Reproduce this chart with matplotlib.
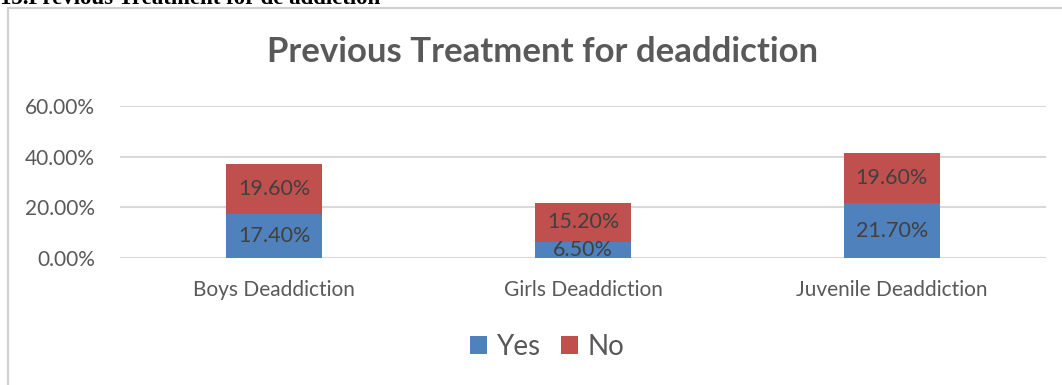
import matplotlib.pyplot as plt
from matplotlib.patches import Rectangle
import numpy as np

# Previous treatment for deaddiction, by centre
centres = ['Boys Deaddiction', 'Girls Deaddiction', 'Juvenile Deaddiction']
yes = [17.40, 6.50, 21.70]
no = [19.60, 15.20, 19.60]

plt.rcParams['font.family'] = ['Lato', 'DejaVu Sans']

fig = plt.figure(figsize=(10.62, 3.85), dpi=100)
W, H = 1062, 385

# heading of the report section, mostly clipped by the top edge
fig.text(0.0, 1 - 4 / H, '15.Previous Treatment for de addiction', family='Liberation Serif',
         fontsize=16.5, fontweight='bold', color='black', va='baseline', ha='left')

# chart frame
fig.patches.append(Rectangle((8 / W, -0.1), 1.2, 1 - 8 / H + 0.1, transform=fig.transFigure,
                             fill=False, edgecolor='#d0d0d0', linewidth=1.5))

ax = fig.add_axes([120 / W, 1 - 258 / H, 926 / W, (258 - 106) / H])
x = np.arange(len(centres))
w = 0.31
ax.bar(x, yes, w, color='#4f81bd', label='Yes', zorder=3)
ax.bar(x, no, w, bottom=yes, color='#c0504d', label='No', zorder=3)

for i in range(len(centres)):
    ax.text(x[i], yes[i] / 2, f'{yes[i]:.2f}%', ha='center', va='center', fontsize=15.5, color='#404040', zorder=4)
    ax.text(x[i], yes[i] + no[i] / 2, f'{no[i]:.2f}%', ha='center', va='center', fontsize=15.5, color='#404040', zorder=4)

ax.set_xlim(-0.5, 2.5)
ax.set_ylim(0, 60)
ax.set_yticks([0, 20, 40, 60])
ax.set_yticklabels([f'{v:.2f}%' for v in [0, 20, 40, 60]])
ax.set_xticks(x)
ax.set_xticklabels(centres)
ax.tick_params(length=0, labelsize=15, colors='#595959')
ax.tick_params(axis='x', pad=16)
ax.tick_params(axis='y', pad=18)
ax.grid(axis='y', color='#d9d9d9', linewidth=1.5, zorder=0)
for s in ax.spines.values():
    s.set_visible(False)

fig.text(543 / W, 1 - 52 / H, 'Previous Treatment for deaddiction', ha='center', va='center',
         fontsize=25, fontweight='bold', color='#595959')

fig.legend(loc='center', bbox_to_anchor=(547 / W, 1 - 347 / H), ncol=2, frameon=False,
           fontsize=20, labelcolor='#595959', handlelength=0.62, handleheight=0.62,
           handletextpad=0.32, columnspacing=0.76)

fig.savefig('out.png', dpi=100)
